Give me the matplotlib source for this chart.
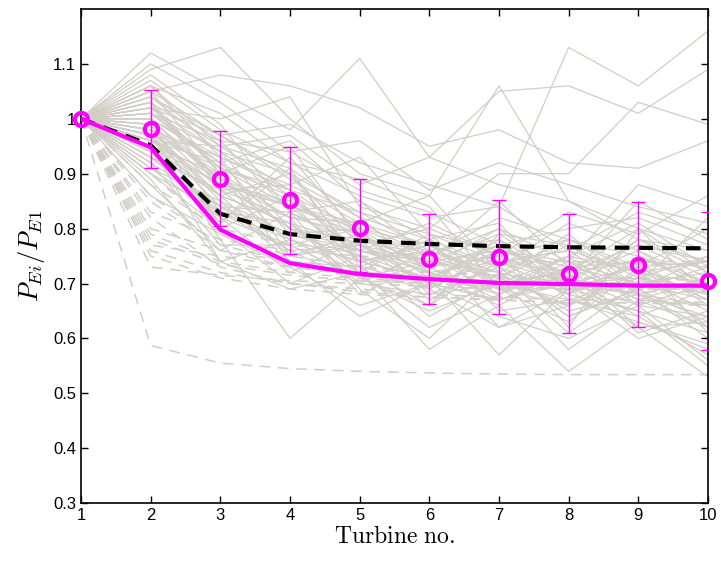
import numpy as np
import matplotlib
matplotlib.use("Agg")
import matplotlib.pyplot as plt
from matplotlib.ticker import FuncFormatter

plt.rcParams['mathtext.fontset'] = 'cm'
plt.rcParams['font.family'] = ['Liberation Sans', 'DejaVu Sans']

turbines = [1, 2, 3, 4, 5, 6, 7, 8, 9, 10]

# Individual measured cases (thin grey solid)
case_01 = [1.00, 1.12, 1.05, 0.98, 1.11, 0.93, 0.88, 0.85, 0.80, 0.76]
case_02 = [1.00, 1.09, 1.13, 1.00, 0.90, 0.86, 1.06, 0.85, 0.78, 0.74]
case_03 = [1.00, 1.05, 1.08, 1.06, 1.02, 0.95, 0.98, 0.92, 0.91, 0.96]
case_04 = [1.00, 1.03, 0.95, 0.97, 0.88, 0.93, 1.05, 1.06, 1.01, 1.09]
case_05 = [1.00, 1.07, 0.98, 0.92, 0.86, 0.82, 0.84, 1.13, 1.06, 1.16]
case_06 = [1.00, 1.02, 1.00, 1.04, 0.84, 0.80, 0.90, 0.90, 1.03, 0.99]
case_07 = [1.00, 1.06, 0.93, 0.88, 0.93, 0.79, 0.76, 0.74, 0.88, 0.84]
case_08 = [1.00, 0.98, 0.90, 0.95, 0.78, 0.74, 0.85, 0.73, 0.70, 0.82]
case_09 = [1.00, 1.00, 0.88, 0.84, 0.81, 0.86, 0.72, 0.78, 0.75, 0.70]
case_10 = [1.00, 0.96, 0.92, 0.79, 0.80, 0.75, 0.80, 0.70, 0.68, 0.66]
case_11 = [1.00, 1.04, 0.97, 0.89, 0.82, 0.72, 0.74, 0.76, 0.83, 0.79]
case_12 = [1.00, 0.94, 0.86, 0.90, 0.74, 0.77, 0.69, 0.66, 0.72, 0.62]
case_13 = [1.00, 0.99, 0.83, 0.81, 0.77, 0.70, 0.78, 0.71, 0.64, 0.69]
case_14 = [1.00, 0.92, 0.84, 0.76, 0.70, 0.68, 0.73, 0.64, 0.69, 0.60]
case_15 = [1.00, 1.01, 0.94, 0.86, 0.76, 0.73, 0.67, 0.72, 0.77, 0.71]
case_16 = [1.00, 0.97, 0.81, 0.93, 0.79, 0.71, 0.70, 0.67, 0.63, 0.58]
case_17 = [1.00, 0.95, 0.74, 0.78, 0.72, 0.62, 0.68, 0.75, 0.66, 0.64]
case_18 = [1.00, 0.90, 0.80, 0.70, 0.75, 0.69, 0.62, 0.69, 0.70, 0.67]
case_19 = [1.00, 1.08, 0.99, 0.83, 0.85, 0.78, 0.81, 0.68, 0.74, 0.73]
case_20 = [1.00, 0.93, 0.87, 0.82, 0.68, 0.74, 0.76, 0.62, 0.80, 0.68]
case_21 = [1.00, 0.97, 0.78, 0.60, 0.71, 0.65, 0.70, 0.72, 0.61, 0.65]
case_22 = [1.00, 0.91, 0.85, 0.74, 0.64, 0.70, 0.64, 0.60, 0.66, 0.56]
case_23 = [1.00, 1.02, 0.91, 0.87, 0.83, 0.76, 0.71, 0.79, 0.69, 0.75]
case_24 = [1.00, 0.99, 0.89, 0.80, 0.76, 0.81, 0.75, 0.70, 0.78, 0.72]
case_25 = [1.00, 0.96, 0.95, 0.91, 0.73, 0.66, 0.79, 0.77, 0.71, 0.69]
case_26 = [1.00, 1.05, 0.90, 0.77, 0.80, 0.72, 0.66, 0.73, 0.62, 0.63]
case_27 = [1.00, 0.88, 0.76, 0.83, 0.69, 0.60, 0.72, 0.65, 0.68, 0.71]
case_28 = [1.00, 0.94, 0.82, 0.72, 0.78, 0.67, 0.74, 0.68, 0.65, 0.61]
case_29 = [1.00, 1.01, 0.96, 0.94, 0.87, 0.83, 0.77, 0.80, 0.82, 0.77]
case_30 = [1.00, 0.95, 0.88, 0.85, 0.72, 0.79, 0.69, 0.63, 0.73, 0.74]
case_31 = [1.00, 0.98, 0.93, 0.75, 0.79, 0.73, 0.80, 0.74, 0.67, 0.66]
case_32 = [1.00, 1.03, 0.87, 0.88, 0.81, 0.77, 0.73, 0.81, 0.76, 0.70]
case_33 = [1.00, 0.86, 0.79, 0.73, 0.66, 0.70, 0.67, 0.70, 0.62, 0.53]
case_34 = [1.00, 1.00, 0.92, 0.96, 0.85, 0.75, 0.82, 0.78, 0.73, 0.80]
case_35 = [1.00, 0.93, 0.84, 0.79, 0.75, 0.64, 0.71, 0.58, 0.67, 0.62]
case_36 = [1.00, 1.06, 1.01, 0.92, 0.89, 0.84, 0.69, 0.71, 0.85, 0.78]
case_37 = [1.00, 0.97, 0.86, 0.81, 0.70, 0.76, 0.62, 0.66, 0.71, 0.68]
case_38 = [1.00, 0.90, 0.83, 0.78, 0.74, 0.71, 0.77, 0.69, 0.60, 0.64]
case_39 = [1.00, 1.04, 0.94, 0.90, 0.77, 0.80, 0.75, 0.83, 0.79, 0.86]
case_40 = [1.00, 0.99, 0.80, 0.86, 0.80, 0.68, 0.70, 0.75, 0.81, 0.73]
case_41 = [1.00, 0.95, 0.90, 0.74, 0.73, 0.78, 0.65, 0.67, 0.64, 0.57]
case_42 = [1.00, 1.02, 0.97, 0.99, 0.92, 0.88, 0.84, 0.76, 0.72, 0.74]
case_43 = [1.00, 0.92, 0.77, 0.77, 0.71, 0.74, 0.72, 0.61, 0.70, 0.70]
case_44 = [1.00, 1.10, 1.03, 0.94, 0.96, 0.87, 0.92, 0.88, 0.84, 0.81]
case_45 = [1.00, 0.96, 0.89, 0.82, 0.79, 0.69, 0.76, 0.72, 0.74, 0.66]
case_46 = [1.00, 0.89, 0.74, 0.69, 0.72, 0.58, 0.66, 0.54, 0.63, 0.59]
case_47 = [1.00, 1.01, 0.91, 0.84, 0.74, 0.71, 0.57, 0.69, 0.65, 0.55]
case_48 = [1.00, 0.94, 0.81, 0.91, 0.82, 0.78, 0.73, 0.64, 0.69, 0.63]
case_49 = [1.00, 1.04, 0.96, 0.83, 0.77, 0.74, 0.79, 0.71, 0.76, 0.68]
case_50 = [1.00, 0.98, 0.85, 0.79, 0.76, 0.72, 0.68, 0.74, 0.70, 0.72]
case_51 = [1.00, 1.01, 0.92, 0.85, 0.78, 0.76, 0.72, 0.69, 0.73, 0.67]
case_52 = [1.00, 0.96, 0.88, 0.80, 0.73, 0.70, 0.74, 0.76, 0.68, 0.64]
case_53 = [1.00, 1.03, 0.90, 0.82, 0.81, 0.75, 0.71, 0.66, 0.75, 0.69]
case_54 = [1.00, 0.97, 0.91, 0.86, 0.75, 0.71, 0.76, 0.73, 0.67, 0.71]
case_55 = [1.00, 0.99, 0.87, 0.78, 0.74, 0.77, 0.70, 0.72, 0.77, 0.74]
case_56 = [1.00, 1.06, 0.95, 0.87, 0.79, 0.73, 0.77, 0.70, 0.71, 0.65]
case_57 = [1.00, 0.93, 0.83, 0.76, 0.77, 0.72, 0.69, 0.75, 0.72, 0.68]
case_58 = [1.00, 1.00, 0.89, 0.84, 0.80, 0.77, 0.73, 0.68, 0.78, 0.76]
case_59 = [1.00, 0.95, 0.86, 0.81, 0.72, 0.69, 0.75, 0.71, 0.66, 0.70]
case_60 = [1.00, 1.02, 0.94, 0.80, 0.78, 0.75, 0.68, 0.73, 0.74, 0.61]
case_61 = [1.00, 0.97, 0.84, 0.83, 0.76, 0.74, 0.71, 0.77, 0.69, 0.73]
case_62 = [1.00, 1.05, 0.97, 0.90, 0.83, 0.79, 0.74, 0.72, 0.80, 0.72]
case_63 = [1.00, 0.91, 0.82, 0.77, 0.71, 0.66, 0.74, 0.70, 0.73, 0.67]
case_64 = [1.00, 1.00, 0.93, 0.87, 0.74, 0.76, 0.78, 0.67, 0.71, 0.75]
case_65 = [1.00, 0.98, 0.86, 0.75, 0.77, 0.70, 0.67, 0.71, 0.68, 0.62]
case_66 = [1.00, 1.03, 0.88, 0.84, 0.79, 0.73, 0.75, 0.78, 0.72, 0.70]

cases = [case_01, case_02, case_03, case_04, case_05, case_06, case_07, case_08,
         case_09, case_10, case_11, case_12, case_13, case_14, case_15, case_16,
         case_17, case_18, case_19, case_20, case_21, case_22, case_23, case_24,
         case_25, case_26, case_27, case_28, case_29, case_30, case_31, case_32,
         case_33, case_34, case_35, case_36, case_37, case_38, case_39, case_40,
         case_41, case_42, case_43, case_44, case_45, case_46, case_47, case_48,
         case_49, case_50, case_51, case_52, case_53, case_54, case_55, case_56,
         case_57, case_58, case_59, case_60, case_61, case_62, case_63, case_64,
         case_65, case_66]

# Model predictions per case (thin grey dashed)
model_01 = [1.00, 0.587, 0.555, 0.545, 0.540, 0.537, 0.535, 0.534, 0.534, 0.534]
model_02 = [1.00, 0.77, 0.75, 0.73, 0.72, 0.715, 0.71, 0.705, 0.70, 0.70]
model_03 = [1.00, 0.73, 0.715, 0.705, 0.70, 0.695, 0.69, 0.69, 0.685, 0.685]
model_04 = [1.00, 0.80, 0.76, 0.74, 0.73, 0.72, 0.715, 0.71, 0.71, 0.705]
model_05 = [1.00, 0.79, 0.74, 0.72, 0.71, 0.70, 0.695, 0.69, 0.69, 0.69]
model_06 = [1.00, 0.83, 0.78, 0.76, 0.75, 0.745, 0.74, 0.74, 0.735, 0.735]
model_07 = [1.00, 0.85, 0.76, 0.73, 0.715, 0.705, 0.70, 0.695, 0.69, 0.69]
model_08 = [1.00, 0.82, 0.73, 0.70, 0.685, 0.675, 0.67, 0.665, 0.665, 0.66]
model_09 = [1.00, 0.88, 0.80, 0.77, 0.76, 0.75, 0.745, 0.74, 0.74, 0.74]
model_10 = [1.00, 0.76, 0.72, 0.70, 0.69, 0.68, 0.675, 0.67, 0.67, 0.665]
model_11 = [1.00, 0.86, 0.77, 0.74, 0.72, 0.71, 0.705, 0.70, 0.70, 0.695]
model_12 = [1.00, 0.78, 0.735, 0.715, 0.705, 0.70, 0.695, 0.69, 0.69, 0.69]
model_13 = [1.00, 0.90, 0.79, 0.75, 0.73, 0.72, 0.715, 0.71, 0.71, 0.705]
model_14 = [1.00, 0.75, 0.71, 0.69, 0.68, 0.675, 0.67, 0.665, 0.665, 0.66]

models = [model_01, model_02, model_03, model_04, model_05, model_06, model_07,
          model_08, model_09, model_10, model_11, model_12, model_13, model_14]

# Measured mean and standard deviation (magenta)
meas_mean = [1.000, 0.982, 0.891, 0.852, 0.801, 0.745, 0.749, 0.718, 0.734, 0.705]
meas_upper = [1.000, 1.053, 0.978, 0.949, 0.890, 0.827, 0.852, 0.827, 0.848, 0.831]
meas_lower = [1.000, 0.911, 0.804, 0.754, 0.721, 0.663, 0.645, 0.610, 0.621, 0.578]

# Model mean (magenta solid) and reference model (black dashed)
model_mean = [1.000, 0.948, 0.798, 0.737, 0.717, 0.708, 0.701, 0.699, 0.696, 0.696]
ref_model = [1.000, 0.952, 0.827, 0.790, 0.778, 0.772, 0.768, 0.766, 0.765, 0.764]

grey = '#d0cec6'
magenta = '#ff00ff'

fig = plt.figure(figsize=(7.21, 5.64), dpi=100)
ax = fig.add_axes([0.1123, 0.108, 0.8697, 0.876])

for c in cases:
    ax.plot(turbines, c, color=grey, lw=0.9, zorder=1)
for m in models:
    ax.plot(turbines, m, color=grey, lw=1.1, ls=(0, (7, 5)), zorder=1)

ax.plot(turbines, ref_model, color='black', lw=3, ls=(0, (3.5, 2.2)), zorder=3)
ax.plot(turbines, model_mean, color=magenta, lw=3, zorder=4)

mm = np.array(meas_mean)
yerr = np.vstack([mm - np.array(meas_lower), np.array(meas_upper) - mm])
ax.errorbar(turbines[1:], mm[1:], yerr=yerr[:, 1:], fmt='none', ecolor=magenta,
            elinewidth=1, capsize=5, capthick=1, zorder=5)
ax.plot(turbines, meas_mean, ls='none', marker='o', ms=9.5, mfc='none',
        mec=magenta, mew=3, zorder=6, clip_on=False)

ax.set_xlim(1, 10)
ax.set_ylim(0.3, 1.2)
ax.set_xticks(turbines)
ax.set_yticks([0.3, 0.4, 0.5, 0.6, 0.7, 0.8, 0.9, 1.0, 1.1])
ax.yaxis.set_major_formatter(FuncFormatter(lambda v, p: f'{v:g}'))
ax.tick_params(direction='in', top=True, right=True, length=5, width=1,
               labelsize=12, colors='black')
for s in ax.spines.values():
    s.set_linewidth(1.2)

ax.set_xlabel(r'$\mathrm{Turbine\ no.}$', fontsize=17, labelpad=2)
ax.set_ylabel(r'$P_{Ei}/P_{E1}$', fontsize=19, labelpad=4)

fig.savefig('out.png', dpi=100)
